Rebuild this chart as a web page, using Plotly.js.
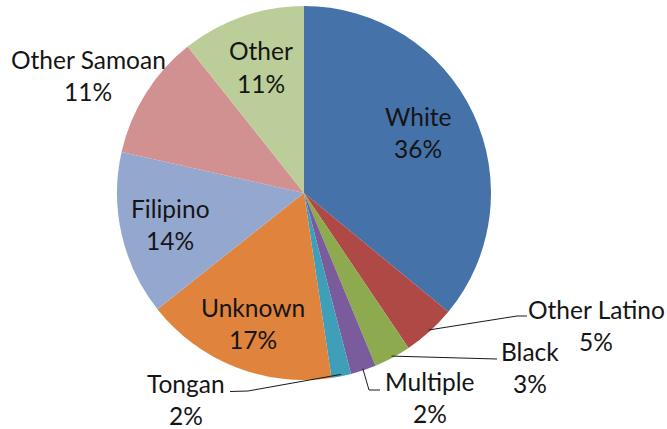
<!DOCTYPE html>
<html><head><meta charset="utf-8">
<script src="https://cdn.plot.ly/plotly-3.0.1.min.js"></script>
<style>html,body{margin:0;padding:0;background:#fff}#chart{width:667px;height:429px}</style>
</head><body><div id="chart"></div>
<script>
// ---- data ----
const labels = ['White','Other Latino','Black','Multiple','Tongan','Unknown','Filipino','Other Samoan','Other'];
const values = [36.0, 4.6, 3.2, 2.2, 1.7, 16.7, 14.2, 10.8, 10.7];
const colors = ['#4572A8','#AE4946','#8DAA4F','#7A5B9B','#3F9EB8','#DF833D','#94A8CF','#D29191','#BBCD98'];

// ---- layout constants (pixels) ----
const W = 667, H = 429, cx = 304, cy = 193, R = 187;
// label block centres
const labelPos = [
  [418.5, 132.5], [596, 325], [530, 367], [430, 397], [186, 399],
  [253, 323], [170, 224], [88, 75], [261, 67]
];
const lineGap = 16;
// leader line end points (after the slice point), null = no leader
const leaders = [
  null,
  [[517, 316], [527, 316]],
  [[497, 359]],
  [[369, 390], [380, 390]],
  [[248, 391], [230, 391.5]],
  null, null, null, null
];

const total = values.reduce((a, b) => a + b, 0);
const px = x => x / W, py = y => 1 - y / H;

const annotations = [];
const shapes = [];
const font = {family: 'Lato, "Open Sans", sans-serif', size: 24.5, color: '#151515'};
let cum = 0;
values.forEach((v, i) => {
  const a0 = cum / total * 360;
  cum += v;
  const a1 = cum / total * 360;
  const mid = (a0 + a1) / 2 * Math.PI / 180;
  const pct = Math.round(v / total * 100) + '%';
  const [lx, ly] = labelPos[i];
  annotations.push({xref: 'paper', yref: 'paper', x: px(lx), y: py(ly - lineGap), text: labels[i],
    showarrow: false, xanchor: 'center', yanchor: 'middle', font: font});
  annotations.push({xref: 'paper', yref: 'paper', x: px(lx), y: py(ly + lineGap), text: pct,
    showarrow: false, xanchor: 'center', yanchor: 'middle', font: font});
  if (leaders[i]) {
    const sx = cx + 0.99 * R * Math.sin(mid), sy = cy - 0.99 * R * Math.cos(mid);
    let d = 'M' + px(sx) + ',' + py(sy);
    leaders[i].forEach(p => { d += ' L' + px(p[0]) + ',' + py(p[1]); });
    shapes.push({type: 'path', xref: 'paper', yref: 'paper', path: d,
      line: {color: '#1a1a1a', width: 1}});
  }
});

const trace = {
  type: 'pie', labels: labels, values: values, sort: false, direction: 'clockwise', rotation: 0,
  marker: {colors: colors, line: {width: 0}},
  textinfo: 'none', hoverinfo: 'label+percent', showlegend: false,
  domain: {x: [px(cx - R), px(cx + R)], y: [py(cy + R), py(cy - R)]}
};

Plotly.newPlot('chart', [trace], {
  width: W, height: H, margin: {l: 0, r: 0, t: 0, b: 0},
  paper_bgcolor: '#fff', showlegend: false,
  annotations: annotations, shapes: shapes
}, {displayModeBar: false, staticPlot: true});
</script>
</body></html>
